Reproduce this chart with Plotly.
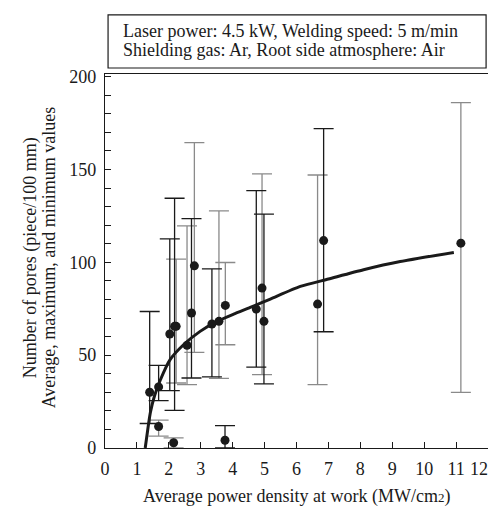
import plotly.graph_objects as go

# measured points, split by error-bar colour
black_x = [1.40, 1.68, 2.03, 2.18, 2.71, 3.35, 3.76, 4.74, 4.98, 6.85]
black_avg = [30.0, 32.9, 61.4, 65.5, 72.7, 66.8, 4.2, 74.8, 68.2, 111.7]
black_max = [73.5, 44.5, 112.6, 134.5, 123.5, 96.5, 12.1, 138.6, 125.9, 172.0]
black_min = [13.2, 25.5, 30.9, 20.3, 37.7, 38.3, 0.0, 43.5, 34.5, 62.6]

gray_x = [1.68, 2.15, 2.23, 2.57, 2.80, 3.57, 3.77, 4.92, 6.66, 11.15]
gray_avg = [11.6, 2.8, 65.5, 55.3, 98.1, 68.2, 76.8, 86.1, 77.5, 110.3]
gray_max = [15.0, 5.5, 101.7, 119.6, 164.4, 127.7, 99.9, 147.6, 147.0, 186.0]
gray_min = [6.4, 0.0, 35.0, 34.1, 51.5, 37.5, 55.6, 39.5, 34.1, 30.0]

# fitted trend line
fit_x = [1.26, 1.34, 1.42, 1.55, 1.73, 2.04, 2.46, 2.98, 3.51, 4.03, 4.55,
         5.18, 6.12, 7.0, 8.1, 9.25, 10.93]
fit_y = [0, 10, 19, 28, 36.5, 47.6, 55.6, 62.8, 68.2, 72.1, 75.7,
         80.2, 87, 91, 96, 100.4, 105.3]

x_tickvals = list(range(13))
# last label padded so it stays inside the page
x_ticktext = [str(v) for v in range(12)] + ["12\u00a0\u00a0\u00a0\u00a0"]

FONT = "Liberation Serif, Times New Roman, serif"
INK = "#1a1a1a"


def bar_trace(x, avg, hi, lo, color):
    return go.Scatter(
        x=x, y=avg, mode="markers",
        marker=dict(color=INK, size=9),
        error_y=dict(
            type="data", symmetric=False,
            array=[h - a for h, a in zip(hi, avg)],
            arrayminus=[a - l for a, l in zip(avg, lo)],
            color=color, thickness=1.3, width=10,
        ),
        showlegend=False, cliponaxis=False,
    )


fig = go.Figure()
fig.add_trace(bar_trace(gray_x, gray_avg, gray_max, gray_min, "#8a8a8a"))
fig.add_trace(bar_trace(black_x, black_avg, black_max, black_min, INK))

fig.add_trace(go.Scatter(
    x=fit_x, y=fit_y, mode="lines",
    line=dict(color=INK, width=3, shape="spline", smoothing=0.6),
    showlegend=False,
))

# page body has an 8px margin; keep the figure small enough to avoid scrollbars
fig.update_layout(
    width=488, height=498,
    margin=dict(l=97, r=8, t=66, b=58),
    paper_bgcolor="white", plot_bgcolor="white",
    font=dict(family=FONT, size=18, color=INK),
    xaxis=dict(
        range=[0, 12], tickvals=x_tickvals, ticktext=x_ticktext,
        ticks="inside", ticklen=6, tickcolor=INK, ticklabelstandoff=4,
        ticklabeloverflow="allow", automargin=False,
        showline=True, linecolor=INK, linewidth=1.2, mirror=True,
        showgrid=False, zeroline=False,
    ),
    yaxis=dict(
        range=[0, 201.4], dtick=50, tick0=0,
        ticks="inside", ticklen=6, tickcolor=INK, ticklabelstandoff=4,
        automargin=False,
        minor=dict(dtick=10, ticks="inside", ticklen=6, tickcolor=INK),
        showline=True, linecolor=INK, linewidth=1.2, mirror=True,
        showgrid=False, zeroline=False,
    ),
    shapes=[dict(
        type="rect", xref="paper", yref="paper",
        x0=0.008, x1=0.995, y0=1.016, y1=1.158,
        line=dict(color=INK, width=1.2), fillcolor="white",
    )],
    annotations=[
        dict(xref="paper", yref="paper", x=0.042, y=1.114,
             xanchor="left", yanchor="middle", showarrow=False,
             text="Laser power: 4.5 kW, Welding speed: 5 m/min"),
        dict(xref="paper", yref="paper", x=0.042, y=1.063,
             xanchor="left", yanchor="middle", showarrow=False,
             text="Shielding gas: Ar, Root side atmosphere: Air"),
        dict(xref="paper", yref="paper", x=0.5, y=-0.131,
             xanchor="center", yanchor="middle", showarrow=False,
             text="Average power density at work (MW/cm<span style='font-size:13px'>2</span>)"),
        dict(xref="paper", yref="paper", x=-0.196, y=0.51, textangle=-90,
             xanchor="center", yanchor="middle", showarrow=False,
             text="Number of pores (piece/100 mm)"),
        dict(xref="paper", yref="paper", x=-0.146, y=0.51, textangle=-90,
             xanchor="center", yanchor="middle", showarrow=False,
             text="Average, maximum, and minimum values"),
    ],
)

fig.write_html("out.html")
